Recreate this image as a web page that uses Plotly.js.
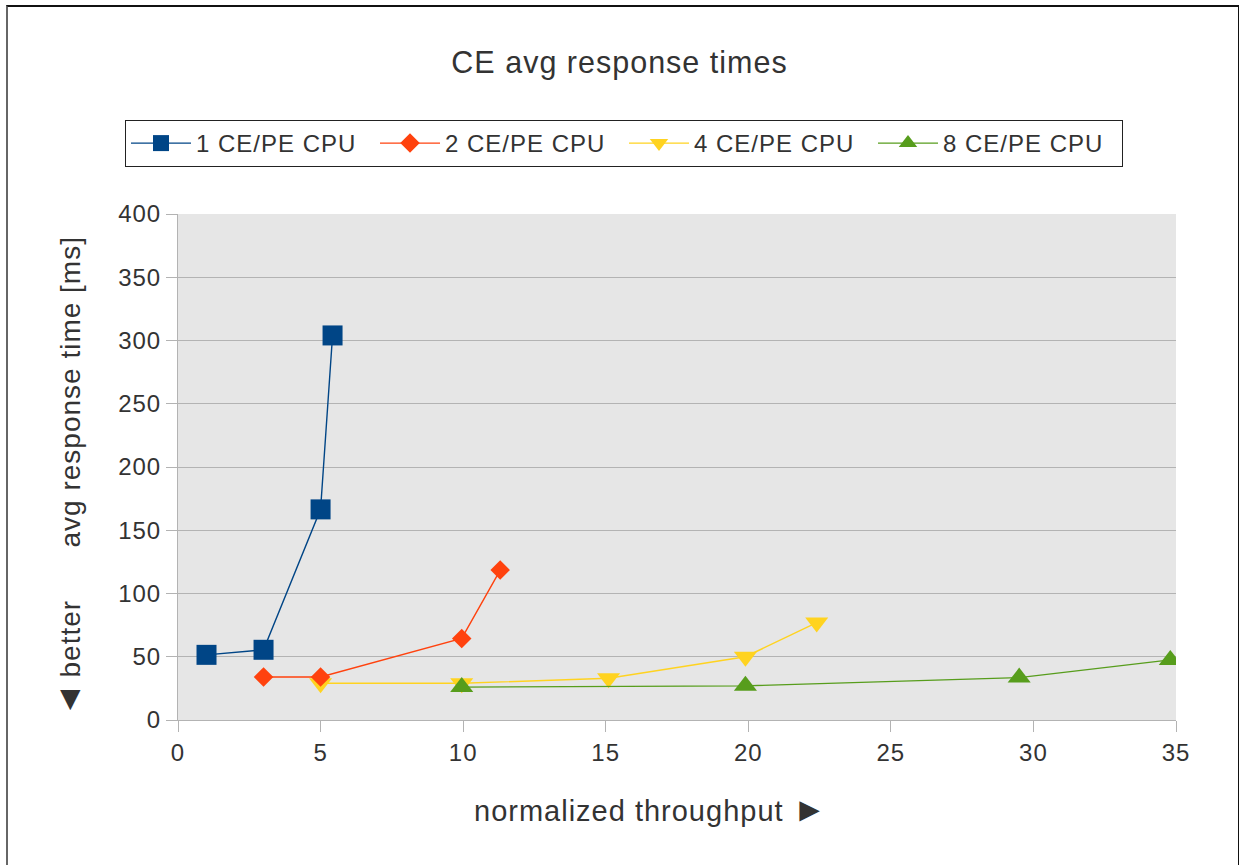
<!DOCTYPE html>
<html>
<head>
<meta charset="utf-8">
<script src="https://cdn.plot.ly/plotly-3.0.1.min.js"></script>
<style>
  html, body { margin: 0; padding: 0; background: #fff; }
  #chart { position: absolute; left: 0; top: 0; width: 1239px; height: 865px; }
  #frame { position: absolute; left: 6px; top: 5px; width: 1230px; height: 900px;
           border: 2px solid #111; border-left-color: #666; pointer-events: none; }
  svg text { letter-spacing: 1px; }
</style>
</head>
<body>
<div id="chart"></div>
<div id="frame"></div>
<script>
// ---- data ----
const seriesNames = ["1 CE/PE CPU", "2 CE/PE CPU", "4 CE/PE CPU", "8 CE/PE CPU"];

const x1 = [1.0, 3.0, 5.0, 5.42];
const y1 = [51.5, 55.5, 166.5, 304];

const x2 = [3.0, 5.0, 9.95, 11.3];
const y2 = [34, 34, 64.5, 118.5];

const x4 = [5.0, 9.95, 15.1, 19.9, 22.4];
const y4 = [29, 29, 33, 50, 77];

const x8 = [9.95, 19.9, 29.5, 34.8];
const y8 = [26, 27, 33.5, 47.5];

const xTicks = [0, 5, 10, 15, 20, 25, 30, 35];
const yTicks = [0, 50, 100, 150, 200, 250, 300, 350, 400];

const chartTitle = "CE avg response times";
const xTitle = "normalized throughput <span style=\"font-size:34px\">►</span>";
const yTitle = "avg response time [ms]";
const yNote = "<span style=\"font-size:34px\">◄</span><span style=\"font-size:14px\"> </span>better";

// ---- styling ----
const FONT = "Liberation Sans, Arial, sans-serif";
const TXT = "#333333";
const colors = ["#004586", "#ff420e", "#ffd320", "#579d1c"];

function tr(x, y, i, symbol, size, rank) {
  return {
    type: "scatter", mode: "lines+markers", x: x, y: y, name: seriesNames[i],
    legendrank: rank,
    line: { color: colors[i], width: 1.4 },
    marker: { color: colors[i], symbol: symbol, size: size, line: { width: 0 } }
  };
}

const data = [
  tr(x4, y4, 2, "triangle-down", 20, 3),
  tr(x8, y8, 3, "triangle-up", 20, 4),
  tr(x2, y2, 1, "diamond", 15, 2),
  tr(x1, y1, 0, "square", 20, 1)
];

const layout = {
  width: 1239, height: 865,
  margin: { l: 178, r: 63, t: 214, b: 145 },
  paper_bgcolor: "#ffffff",
  plot_bgcolor: "#e6e6e6",
  font: { family: FONT, color: TXT, size: 24 },
  title: { text: chartTitle, font: { family: FONT, size: 30.5, color: TXT },
           x: 0.5, xanchor: "center", y: 1 - 62 / 865, yanchor: "middle", yref: "container" },
  showlegend: true,
  legend: {
    orientation: "h", x: (125 - 178) / 998, xanchor: "left",
    y: (720 - 120) / 506, yanchor: "top",
    bgcolor: "#ffffff", bordercolor: "#222222", borderwidth: 1,
    font: { family: FONT, size: 24, color: TXT },
    entrywidth: 174, entrywidthmode: "pixels", itemwidth: 60,
    traceorder: "normal", valign: "middle"
  },
  xaxis: {
    range: [0, 35], tickvals: xTicks, ticktext: xTicks.map(String),
    showgrid: false, zeroline: false,
    showline: true, linecolor: "#b3b3b3", linewidth: 1, mirror: false,
    ticks: "outside", ticklen: 11, tickcolor: "#b3b3b3", tickwidth: 1,
    tickfont: { family: FONT, size: 24, color: TXT }
  },
  yaxis: {
    range: [0, 400], tickvals: yTicks, ticktext: yTicks.map(String),
    showgrid: true, gridcolor: "#b3b3b3", gridwidth: 1, zeroline: false,
    showline: true, linecolor: "#b3b3b3", linewidth: 1,
    ticks: "outside", ticklen: 11, tickcolor: "#b3b3b3", tickwidth: 1,
    tickfont: { family: FONT, size: 24, color: TXT }
  },
  annotations: [
    { text: xTitle, xref: "paper", yref: "paper",
      x: (650 - 178) / 998, y: (720 - 809) / 506, xanchor: "center", yanchor: "middle",
      showarrow: false, font: { family: FONT, size: 29, color: TXT } },
    { text: yTitle, xref: "paper", yref: "paper", textangle: -90,
      x: (70 - 178) / 998, y: (720 - 392.5) / 506, xanchor: "center", yanchor: "middle",
      showarrow: false, font: { family: FONT, size: 28, color: TXT } },
    { text: yNote, xref: "paper", yref: "paper", textangle: -90,
      x: (68 - 178) / 998, y: (720 - 659) / 506, xanchor: "center", yanchor: "middle",
      showarrow: false, font: { family: FONT, size: 28, color: TXT } }
  ]
};

Plotly.newPlot("chart", data, layout, { staticPlot: true, displayModeBar: false });
</script>
</body>
</html>
